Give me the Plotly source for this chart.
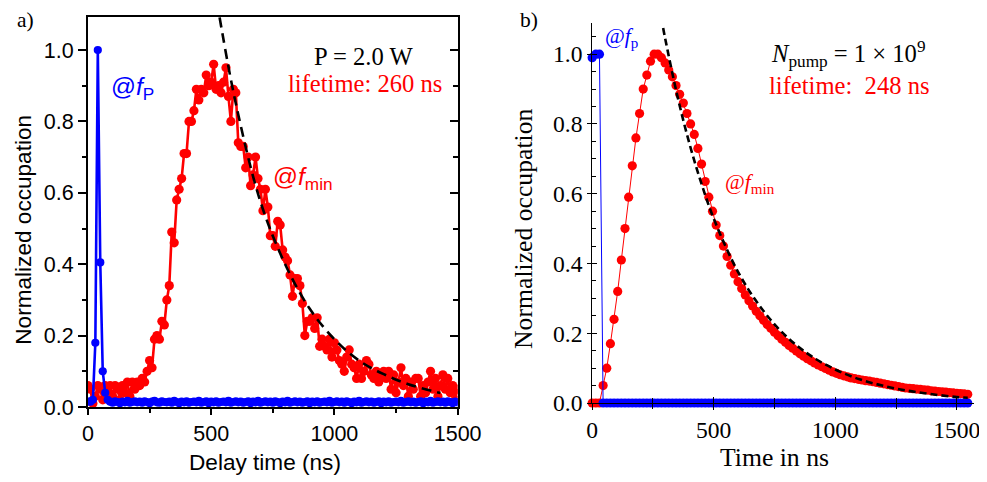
import plotly.graph_objects as go

# ---------------- data: panel a) (measurement) ----------------
t_left = list(range(0, 1501, 10))
red_left = [
    0.06, 0.05, 0.01, 0.03, 0.06, 0.05, 0.02, 0.06, 0.04, 0.06,
    0.03, 0.06, 0.05, 0.02, 0.06, 0.04, 0.07, 0.03, 0.07, 0.05,
    0.07, 0.06, 0.08, 0.07, 0.10, 0.13, 0.11, 0.19, 0.20, 0.19,
    0.24, 0.23, 0.30, 0.34, 0.49, 0.46, 0.58, 0.61, 0.64, 0.71,
    0.71, 0.80, 0.80, 0.83, 0.89, 0.86, 0.89, 0.88, 0.93, 0.90,
    0.91, 0.96, 0.89, 0.90, 0.88, 0.91, 0.95, 0.87, 0.80, 0.89,
    0.88, 0.74, 0.73, 0.73, 0.67, 0.70, 0.62, 0.65, 0.70, 0.64,
    0.61, 0.55, 0.61, 0.56, 0.48, 0.48, 0.45, 0.52, 0.51, 0.44,
    0.42, 0.41, 0.37, 0.31, 0.36, 0.36, 0.34, 0.29, 0.20, 0.24,
    0.24, 0.25, 0.22, 0.25, 0.17, 0.19, 0.17, 0.16, 0.19, 0.14,
    0.18, 0.16, 0.13, 0.12, 0.10, 0.14, 0.16, 0.12, 0.11, 0.08,
    0.12, 0.08, 0.10, 0.13, 0.12, 0.09, 0.08, 0.10, 0.07, 0.09,
    0.10, 0.08, 0.10, 0.05, 0.09, 0.04, 0.07, 0.11, 0.06, 0.08,
    0.03, 0.07, 0.05, 0.08, 0.08, 0.03, 0.06, 0.04, 0.07, 0.10,
    0.05, 0.08, 0.03, 0.06, 0.09, 0.05, 0.08, 0.04, 0.06, 0.02,
    0.05,
]
blue_left = [
    0.015, 0.015, 0.02, 0.18, 1.0, 0.405, 0.10, 0.04, 0.02, 0.015,
    0.012, 0.016, 0.014, 0.011, 0.015, 0.013, 0.017, 0.012, 0.014, 0.016,
    0.013, 0.015, 0.012, 0.016, 0.014, 0.011, 0.015, 0.017, 0.013, 0.012,
    0.016, 0.014, 0.013, 0.015, 0.012, 0.017, 0.014, 0.011, 0.015, 0.013,
    0.016, 0.012, 0.014, 0.015, 0.013, 0.017, 0.012, 0.014, 0.016, 0.011,
    0.015, 0.013, 0.016, 0.012, 0.014, 0.015, 0.013, 0.017, 0.012, 0.014,
    0.016, 0.013, 0.015, 0.012, 0.014, 0.016, 0.011, 0.015, 0.013, 0.017,
    0.012, 0.014, 0.016, 0.013, 0.015, 0.012, 0.016, 0.014, 0.011, 0.015,
    0.013, 0.017, 0.012, 0.014, 0.016, 0.013, 0.015, 0.012, 0.014, 0.016,
    0.011, 0.015, 0.013, 0.016, 0.012, 0.014, 0.015, 0.013, 0.017, 0.012,
    0.014, 0.016, 0.013, 0.015, 0.012, 0.016, 0.014, 0.011, 0.015, 0.013,
    0.017, 0.012, 0.014, 0.016, 0.013, 0.015, 0.012, 0.014, 0.016, 0.011,
    0.015, 0.013, 0.016, 0.012, 0.014, 0.015, 0.013, 0.017, 0.012, 0.014,
    0.016, 0.013, 0.015, 0.012, 0.014, 0.016, 0.011, 0.015, 0.013, 0.017,
    0.012, 0.014, 0.016, 0.013, 0.015, 0.012, 0.016, 0.014, 0.011, 0.015,
    0.013,
]
fit_left_t = [534, 600, 700, 800, 900, 1000, 1100, 1200, 1300, 1430]
fit_left_v = [1.092, 0.85, 0.575, 0.40, 0.275, 0.19, 0.13, 0.092, 0.064, 0.039]

# ---------------- data: panel b) (simulation) ----------------
t_right = list(range(0, 1546, 15))
red_right = [
    0.0, 0.0, 0.0, 0.05, 0.10, 0.17, 0.24, 0.32, 0.41, 0.50,
    0.59, 0.68, 0.76, 0.83, 0.90, 0.94, 0.98, 1.0, 1.0, 0.99,
    0.975, 0.955, 0.935, 0.91, 0.885, 0.86, 0.83, 0.80, 0.77, 0.73,
    0.685, 0.635, 0.59, 0.55, 0.51, 0.48, 0.45, 0.42, 0.395, 0.37,
    0.348, 0.328, 0.31, 0.293, 0.278, 0.263, 0.25, 0.237, 0.225, 0.214,
    0.203, 0.193, 0.183, 0.174, 0.165, 0.157, 0.149, 0.141, 0.134, 0.127,
    0.121, 0.115, 0.109, 0.104, 0.099, 0.094, 0.089, 0.085, 0.081, 0.078,
    0.075, 0.072, 0.070, 0.068, 0.066, 0.064, 0.063, 0.061, 0.059, 0.057,
    0.055, 0.053, 0.051, 0.049, 0.047, 0.045, 0.043, 0.042, 0.041, 0.040,
    0.039, 0.038, 0.037, 0.035, 0.034, 0.033, 0.032, 0.031, 0.030, 0.029,
    0.028, 0.027, 0.026, 0.025,
]
blue_right = [
    0.99, 1.0, 1.0, 0.0, 0.0, 0.0, 0.0, 0.0, 0.0, 0.0,
    0.0, 0.0, 0.0, 0.0, 0.0, 0.0, 0.0, 0.0, 0.0, 0.0,
    0.0, 0.0, 0.0, 0.0, 0.0, 0.0, 0.0, 0.0, 0.0, 0.0,
    0.0, 0.0, 0.0, 0.0, 0.0, 0.0, 0.0, 0.0, 0.0, 0.0,
    0.0, 0.0, 0.0, 0.0, 0.0, 0.0, 0.0, 0.0, 0.0, 0.0,
    0.0, 0.0, 0.0, 0.0, 0.0, 0.0, 0.0, 0.0, 0.0, 0.0,
    0.0, 0.0, 0.0, 0.0, 0.0, 0.0, 0.0, 0.0, 0.0, 0.0,
    0.0, 0.0, 0.0, 0.0, 0.0, 0.0, 0.0, 0.0, 0.0, 0.0,
    0.0, 0.0, 0.0, 0.0, 0.0, 0.0, 0.0, 0.0, 0.0, 0.0,
    0.0, 0.0, 0.0, 0.0, 0.0, 0.0, 0.0, 0.0, 0.0, 0.0,
    0.0, 0.0, 0.0, 0.0,
]
fit_right_t = [292, 300, 350, 400, 450, 500, 600, 700, 800, 900, 1000, 1100, 1200, 1300, 1400, 1500, 1545]
fit_right_v = [1.075, 1.046, 0.882, 0.744, 0.628, 0.529, 0.376, 0.268, 0.190, 0.135, 0.096, 0.068, 0.049, 0.035, 0.025, 0.017, 0.015]

x_ticks = [0, 500, 1000, 1500]
y_ticks = [0.0, 0.2, 0.4, 0.6, 0.8, 1.0]

RED = "#ff0000"
BLUE = "#0000ff"
SANS = "Liberation Sans, Arial, sans-serif"
SERIF = "Liberation Serif, Times New Roman, serif"

# The page adds an 8px body margin and the photo of the page is fitted to
# 987x482, so design in target pixels and convert.
OFF = 8
W, H = 998, 478
SX = 987 / (W + 2 * OFF)
SY = 482 / (H + 2 * OFF)
SF = (SX + SY) / 2
DX, DY = -4, 1  # small empirical correction


def px(x):
    return ((x + DX) / SX - OFF) / W


def py(y):
    return 1 - ((y + DY) / SY - OFF) / H


def fs(s):
    return round(s / SF, 1)


fig = go.Figure()

# panel a
fig.add_trace(go.Scatter(x=t_left, y=red_left, mode="lines+markers",
                         line=dict(color=RED, width=fs(2.5)),
                         marker=dict(color=RED, size=fs(9)), xaxis="x", yaxis="y"))
fig.add_trace(go.Scatter(x=t_left, y=blue_left, mode="lines+markers",
                         line=dict(color=BLUE, width=fs(2.5)),
                         marker=dict(color=BLUE, size=fs(8)), xaxis="x", yaxis="y"))
fig.add_trace(go.Scatter(x=fit_left_t, y=fit_left_v, mode="lines",
                         line=dict(color="black", width=fs(2.5), dash="10px,6px", shape="spline"),
                         xaxis="x", yaxis="y"))

# panel b
fig.add_trace(go.Scatter(x=t_right, y=red_right, mode="lines+markers",
                         line=dict(color=RED, width=1),
                         marker=dict(color=RED, size=fs(9)), cliponaxis=False,
                         xaxis="x2", yaxis="y2"))
fig.add_trace(go.Scatter(x=t_right, y=blue_right, mode="lines+markers",
                         line=dict(color=BLUE, width=1),
                         marker=dict(color=BLUE, size=fs(9)), cliponaxis=False,
                         xaxis="x2", yaxis="y2"))
fig.add_trace(go.Scatter(x=fit_right_t, y=fit_right_v, mode="lines",
                         line=dict(color="black", width=fs(2.5), dash="7px,4px", shape="spline"),
                         xaxis="x2", yaxis="y2"))

# invisible helpers so the tick-only overlay axes are drawn
for xa, ya in (("x", "y3"), ("x3", "y2"), ("x2", "y4")):
    fig.add_trace(go.Scatter(x=[t_right[0]], y=[blue_right[-1]], mode="markers",
                             marker=dict(opacity=0), hoverinfo="skip",
                             xaxis=xa, yaxis=ya))

dom_a_x = [px(86), px(457)]
dom_a_y = [py(407), py(16)]
dom_b_x = [px(592), px(975)]
dom_b_y = [py(403), py(22)]

sans_tick = dict(family=SANS, size=fs(21), color="black")
serif_tick = dict(family=SERIF, size=fs(23), color="black")

fig.update_layout(
    width=W, height=H,
    margin=dict(l=0, r=0, t=0, b=0),
    paper_bgcolor="white", plot_bgcolor="white",
    showlegend=False,
    xaxis=dict(domain=dom_a_x, anchor="y", range=[0, 1500], tickvals=x_ticks,
               showgrid=False, zeroline=False, showline=True, linecolor="black",
               linewidth=2, mirror=True, ticks="outside", ticklen=6, tickwidth=2,
               tickcolor="black", tickfont=sans_tick,
               minor=dict(ticks="outside", ticklen=4, tickwidth=2, dtick=250,
                          tickcolor="black", showgrid=False)),
    yaxis=dict(domain=dom_a_y, anchor="x", range=[0, 1.092], tickvals=y_ticks,
               tickformat=".1f", showgrid=False, zeroline=False, showline=True,
               linecolor="black", linewidth=2, mirror=True, ticks="outside",
               ticklen=8, tickwidth=2, tickcolor="black", tickfont=sans_tick,
               minor=dict(ticks="outside", ticklen=4, tickwidth=2, dtick=0.1,
                          tickcolor="black", showgrid=False)),
    yaxis3=dict(overlaying="y", anchor="x", side="right", range=[0, 1.092],
                tickvals=y_ticks, showticklabels=False, showgrid=False,
                zeroline=False, showline=False, ticks="inside", ticklen=8,
                tickwidth=2, tickcolor="black",
                minor=dict(ticks="inside", ticklen=5, tickwidth=2, dtick=0.1,
                           tickcolor="black", showgrid=False)),
    xaxis2=dict(domain=dom_b_x, anchor="y2", range=[0, 1570], tickvals=x_ticks,
                showgrid=False, zeroline=False, showline=True, linecolor="black",
                linewidth=1, ticks="outside", ticklen=6, tickwidth=1,
                tickcolor="black", tickfont=serif_tick,
                minor=dict(ticks="outside", ticklen=5, tickwidth=1, dtick=250,
                           tickcolor="black", showgrid=False)),
    xaxis3=dict(overlaying="x2", anchor="y2", side="bottom", range=[0, 1570],
                tickvals=x_ticks, showticklabels=False, showgrid=False,
                zeroline=False, showline=False, ticks="inside", ticklen=6,
                tickwidth=1, tickcolor="black",
                minor=dict(ticks="inside", ticklen=5, tickwidth=1, dtick=250,
                           tickcolor="black", showgrid=False)),
    yaxis2=dict(domain=dom_b_y, anchor="x2", range=[0, 1.089], tickvals=y_ticks,
                tickformat=".1f", showgrid=False, zeroline=False, showline=True,
                linecolor="black", linewidth=1, ticks="outside", ticklen=4,
                tickwidth=1, tickcolor="black", tickfont=serif_tick),
    yaxis4=dict(overlaying="y2", anchor="x2", side="left", range=[0, 1.089],
                tickvals=y_ticks, showticklabels=False, showgrid=False,
                zeroline=False, showline=False, ticks="inside", ticklen=5,
                tickwidth=1, tickcolor="black",
                minor=dict(ticks="inside", ticklen=4, tickwidth=1, dtick=0.05,
                           tickcolor="black", showgrid=False)),
)


def ann(text, x, y, font, rot=0):
    font = dict(font)
    font["size"] = fs(font["size"])
    fig.add_annotation(text=text, x=px(x), y=py(y), xref="paper", yref="paper",
                       showarrow=False, font=font, textangle=rot,
                       xanchor="center", yanchor="middle")


# axis titles
ann("Normalized occupation", 21, 229, dict(family=SANS, size=22, color="black"), rot=-90)
ann("Delay time (ns)", 264, 463, dict(family=SANS, size=22, color="black"))
ann("Normalized occupation", 523, 228, dict(family=SERIF, size=25, color="black"), rot=-90)
ann("Time in ns", 775, 458, dict(family=SERIF, size=25, color="black"))

# panel labels
ann("a)", 23, 19, dict(family=SERIF, size=21, color="black"))
ann("b)", 529, 19, dict(family=SERIF, size=21, color="black"))

# panel a texts
ann("@<i>f</i><sub>P</sub>", 131, 88, dict(family=SANS, size=24, color=BLUE))
ann("@<i>f</i><sub>min</sub>", 302, 178, dict(family=SANS, size=24, color=RED))
ann("P = 2.0 W", 363, 55, dict(family=SERIF, size=24, color="black"))
ann("lifetime: 260 ns", 364, 83, dict(family=SERIF, size=24, color=RED))

# panel b texts
ann("@<i>f</i><sub>p</sub>", 621, 36, dict(family=SERIF, size=21, color=BLUE))
ann("@<i>f</i><sub>min</sub>", 750, 183, dict(family=SERIF, size=21, color=RED))
ann("<i>N</i><sub>pump</sub> = 1 × 10<sup>9</sup>", 849, 53, dict(family=SERIF, size=24, color="black"))
ann("lifetime:  248 ns", 850, 85, dict(family=SERIF, size=24, color=RED))

fig.write_html("out.html")
